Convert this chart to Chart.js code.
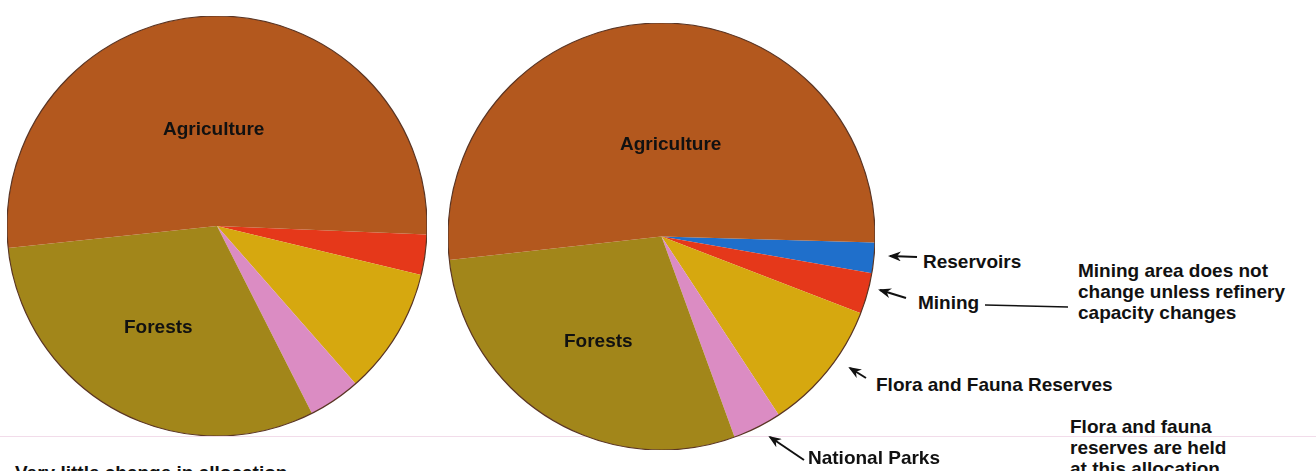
<!DOCTYPE html>
<html>
<head>
<meta charset="utf-8">
<script src="https://cdn.jsdelivr.net/npm/chart.js@4"></script>
<style>
  html, body { margin: 0; padding: 0; background: #fff; }
  body { width: 1316px; height: 471px; position: relative; overflow: hidden;
         font-family: "Liberation Sans", Arial, sans-serif; font-weight: bold; color: #111; }
  .pie { position: absolute; }
  .lbl { position: absolute; font-size: 19px; white-space: nowrap; line-height: 21px; }
  .rule { position: absolute; left: 0; top: 436px; width: 1316px; height: 1px; background: #f2dcea; }
  svg { position: absolute; left: 0; top: 0; }
</style>
</head>
<body>
<div class="rule"></div>
<div class="pie" style="left:7px; top:16px; width:420px; height:420px;"><canvas id="pieNow"></canvas></div>
<div class="pie" style="left:448px; top:23px; width:427px; height:427px;"><canvas id="pieLater"></canvas></div>

<div class="lbl" style="left:163px; top:118px;">Agriculture</div>
<div class="lbl" style="left:124px; top:316px;">Forests</div>
<div class="lbl" style="left:620px; top:133px;">Agriculture</div>
<div class="lbl" style="left:564px; top:330px;">Forests</div>

<div class="lbl" style="left:923px; top:251px;">Reservoirs</div>
<div class="lbl" style="left:918px; top:292px;">Mining</div>
<div class="lbl" style="left:1078px; top:260px;">Mining area does not<br>change unless refinery<br>capacity changes</div>
<div class="lbl" style="left:876px; top:374px;">Flora and Fauna Reserves</div>
<div class="lbl" style="left:808px; top:447px;">National Parks</div>
<div class="lbl" style="left:1070px; top:416px;">Flora and fauna<br>reserves are held<br>at this allocation</div>
<div class="lbl" style="left:15px; top:462px;">Very little change in allocation</div>

<svg width="1316" height="471">
  <defs>
    <marker id="head" markerWidth="13" markerHeight="10" refX="11" refY="5" orient="auto" markerUnits="userSpaceOnUse">
      <path d="M13,5 L0,0 L4,5 L0,10 Z" fill="#111"/>
    </marker>
  </defs>
  <g stroke="#111" stroke-width="2" fill="none">
    <line x1="917" y1="257" x2="890" y2="256" marker-end="url(#head)"/>
    <line x1="906" y1="298" x2="880" y2="290" marker-end="url(#head)"/>
    <line x1="866" y1="378" x2="850" y2="368" marker-end="url(#head)"/>
    <line x1="804" y1="460" x2="770" y2="437" marker-end="url(#head)"/>
    <line x1="985" y1="305" x2="1068" y2="307" stroke-width="1.5"/>
  </g>
</svg>

<script>
// land allocation, percent of total area
const categories = ['Reservoirs', 'Mining', 'Flora and Fauna Reserves', 'National Parks', 'Forests', 'Agriculture'];
const presentValues = [0, 3.1, 9.8, 4.0, 30.8, 52.3];
const futureValues = [2.3, 3.1, 9.9, 3.7, 28.8, 52.2];
const sliceColors = ['#1f6fcb', '#e5381a', '#d6a80f', '#db8cc3', '#a2861a', '#b3581e'];

// outline round the pie, taken from the arc the library drew
const outline = {
    id: 'outline',
    afterDatasetsDraw(chart) {
        const arc = chart.getDatasetMeta(0).data[0];
        if (!arc) return;
        const ctx = chart.ctx;
        ctx.save();
        ctx.beginPath();
        ctx.arc(arc.x, arc.y, arc.outerRadius, 0, Math.PI * 2);
        ctx.strokeStyle = '#5a3524';
        ctx.lineWidth = 1.2;
        ctx.stroke();
        ctx.restore();
    }
};

function makePie(id, values, rotation) {
    new Chart(document.getElementById(id), {
        type: 'pie',
        data: {
            labels: categories,
            datasets: [{
                data: values,
                backgroundColor: sliceColors,
                borderWidth: 0
            }]
        },
        options: {
            responsive: true,
            maintainAspectRatio: false,
            animation: false,
            rotation: rotation,
            layout: { padding: 0 },
            plugins: {
                legend: { display: false },
                tooltip: { enabled: false }
            }
        },
        plugins: [outline]
    });
}

makePie('pieNow', presentValues, 92.3);
makePie('pieLater', futureValues, 91.6);
</script>
</body>
</html>
